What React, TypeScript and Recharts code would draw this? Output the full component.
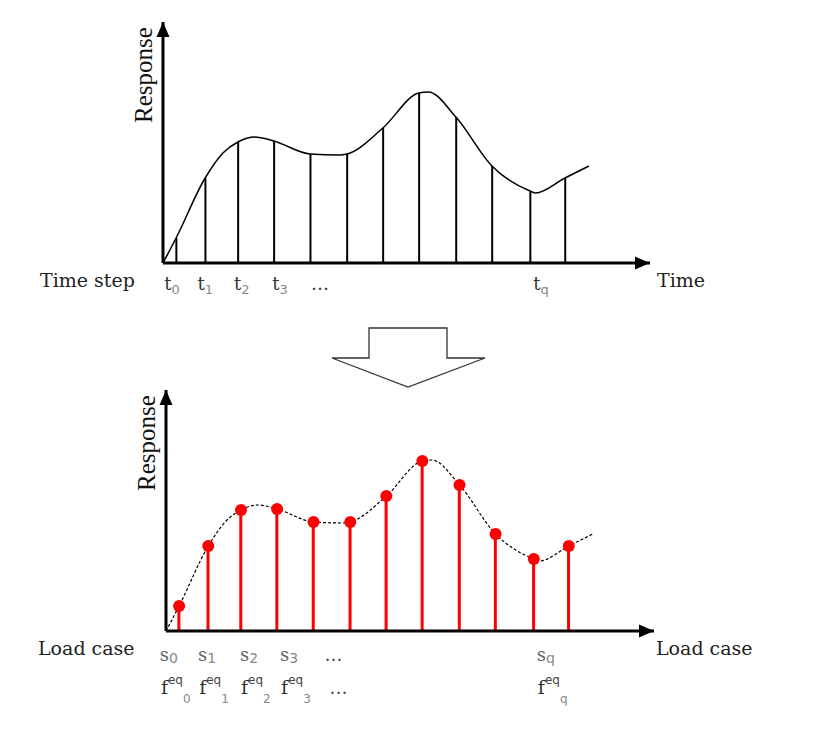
import { ComposedChart, Line, Bar, XAxis, YAxis, ReferenceDot } from 'recharts'

// sampled time steps (x in time units) and the response at each
const stepTimes = [0.36, 1.16, 2.06, 3.05, 4.05, 5.06, 6.05, 7.04, 8.06, 9.05, 10.1, 11.06]
const stepResponse = [25, 85, 121, 122, 109, 109, 135, 170, 146, 97, 72, 85]

// continuous response curve
const curveTimes = [0, 0.36, 1.16, 1.65, 2.06, 2.52, 3.05, 4.05, 4.85, 5.06, 6.05, 7.04, 7.3, 8.06, 9.05, 10.1, 10.25, 11.06, 11.72]
const curveResponse = [0, 25, 85, 110, 121, 126, 122, 109, 108, 109, 135, 170, 171, 146, 97, 72, 70, 85, 97]

// tick labels
const timeTickPos = [0.25, 1.16, 2.17, 3.22, 4.32, 10.4]
const caseTickPos = [0.08, 1.13, 2.28, 3.38, 4.6, 10.43]
const tickSubs = ['0', '1', '2', '3', '', 'q']

const X_MAX = 13.4
const Y_MAX = 241

const stems = stepTimes.map((t, i) => ({ t, r: stepResponse[i] }))
const curve = curveTimes.map((t, i) => ({ t, r: curveResponse[i] }))

const serif = '"DejaVu Serif", serif'
const sans = '"DejaVu Sans", sans-serif'

const ArrowRight = (p: any) => (
  <polygon points={`${p.cx},${p.cy} ${p.cx - 15},${p.cy - 6.5} ${p.cx - 15},${p.cy + 6.5}`} fill="#000" />
)
const ArrowUp = (p: any) => (
  <polygon points={`${p.cx},${p.cy} ${p.cx - 6.5},${p.cy + 15} ${p.cx + 6.5},${p.cy + 15}`} fill="#000" />
)

const TimeTick = ({ x, y, index }: any) => {
  const sub = tickSubs[index]
  return (
    <text x={x} y={y + 19} textAnchor="middle" fontFamily={serif} fontSize={18} fill="#333">
      {sub === '' ? '…' : 't'}
      {sub !== '' && (
        <tspan dy={4} fontSize={13} fontFamily={sans} fill="#888">{sub}</tspan>
      )}
    </text>
  )
}

const CaseTick = ({ x, y, index }: any) => {
  const sub = tickSubs[index]
  if (sub === '') {
    return (
      <g>
        <text x={x} y={y + 22} textAnchor="middle" fontFamily={serif} fontSize={18} fill="#444">…</text>
        <text x={x + 5} y={y + 55} textAnchor="middle" fontFamily={serif} fontSize={18} fill="#444">…</text>
      </g>
    )
  }
  return (
    <g>
      <text x={x} y={y + 22} textAnchor="middle" fontFamily={serif} fontSize={18} fill="#666">
        s<tspan dy={2} fontSize={14} fontFamily={sans} fill="#888">{sub}</tspan>
      </text>
      <text x={x - 8} y={y + 55} textAnchor="start" fontFamily={serif} fontSize={19} fill="#333">
        f<tspan dy={-10} fontSize={12} fontFamily={sans} fill="#444">eq</tspan>
        <tspan dy={19} fontSize={12} fontFamily={sans} fill="#888">{sub}</tspan>
      </text>
    </g>
  )
}

const ResponseLabel = ({ viewBox }: any) => {
  const x = viewBox.x + viewBox.width - 20
  const y = viewBox.y + 53
  return (
    <text x={x} y={y} transform={`rotate(-90 ${x} ${y})`} textAnchor="middle" dominantBaseline="central"
      fontFamily='"Liberation Serif", serif' fontSize={25} fill="#111">Response</text>
  )
}

const label = (text: string, left: number, top: number) => (
  <div style={{ position: 'absolute', left, top, fontFamily: serif, fontSize: 19, color: '#222', whiteSpace: 'nowrap', lineHeight: '24px' }}>
    {text}
  </div>
)

export default function App() {
  return (
    <div style={{ position: 'absolute', left: 0, top: 0, width: 822, height: 747, background: '#fff', overflow: 'hidden' }}>
      <div style={{ position: 'absolute', left: 0, top: 0 }}>
        <ComposedChart width={822} height={310} data={stems} margin={{ top: 22, right: 172, bottom: 17, left: 103 }}>
          <XAxis dataKey="t" type="number" domain={[0, X_MAX]} ticks={timeTickPos} interval={0} height={30}
            axisLine={{ stroke: '#000', strokeWidth: 3 }} tickLine={false} tick={<TimeTick />} allowDataOverflow />
          <YAxis type="number" domain={[0, Y_MAX]} width={60} tick={false} tickLine={false}
            axisLine={{ stroke: '#000', strokeWidth: 3 }} label={<ResponseLabel />} allowDataOverflow />
          <Bar dataKey="r" fill="#000" barSize={2} isAnimationActive={false} />
          <Line data={curve} dataKey="r" type="monotone" stroke="#000" strokeWidth={1.5} dot={false} isAnimationActive={false} />
          <ReferenceDot x={X_MAX} y={0} r={0} shape={ArrowRight} ifOverflow="visible" />
          <ReferenceDot x={0} y={Y_MAX} r={0} shape={ArrowUp} ifOverflow="visible" />
        </ComposedChart>
      </div>

      <div style={{ position: 'absolute', left: 0, top: 370 }}>
        <ComposedChart width={822} height={340} data={stems} margin={{ top: 20, right: 168, bottom: 49, left: 106 }}>
          <XAxis dataKey="t" type="number" domain={[0, X_MAX]} ticks={caseTickPos} interval={0} height={30}
            axisLine={{ stroke: '#000', strokeWidth: 3 }} tickLine={false} tick={<CaseTick />} allowDataOverflow />
          <YAxis type="number" domain={[0, Y_MAX]} width={60} tick={false} tickLine={false}
            axisLine={{ stroke: '#000', strokeWidth: 3 }} label={<ResponseLabel />} allowDataOverflow />
          <Bar dataKey="r" fill="#f00" barSize={3} isAnimationActive={false} />
          <Line data={curve} dataKey="r" type="monotone" stroke="#000" strokeWidth={1.2} strokeDasharray="3 2" dot={false} isAnimationActive={false} />
          <Line dataKey="r" stroke="none" dot={{ r: 6, fill: '#f00', stroke: 'none' }} isAnimationActive={false} />
          <ReferenceDot x={X_MAX} y={0} r={0} shape={ArrowRight} ifOverflow="visible" />
          <ReferenceDot x={0} y={Y_MAX} r={0} shape={ArrowUp} ifOverflow="visible" />
        </ComposedChart>
      </div>

      <svg style={{ position: 'absolute', left: 0, top: 0 }} width={822} height={747} pointerEvents="none">
        <polygon points="369,328 447,328 447,358 485,358 408,387 332,358 369,358" fill="#fff" stroke="#333" strokeWidth={1.3} />
      </svg>

      {label('Time step', 40, 268)}
      {label('Time', 657, 268)}
      {label('Load case', 38, 636)}
      {label('Load case', 656, 636)}
    </div>
  )
}
